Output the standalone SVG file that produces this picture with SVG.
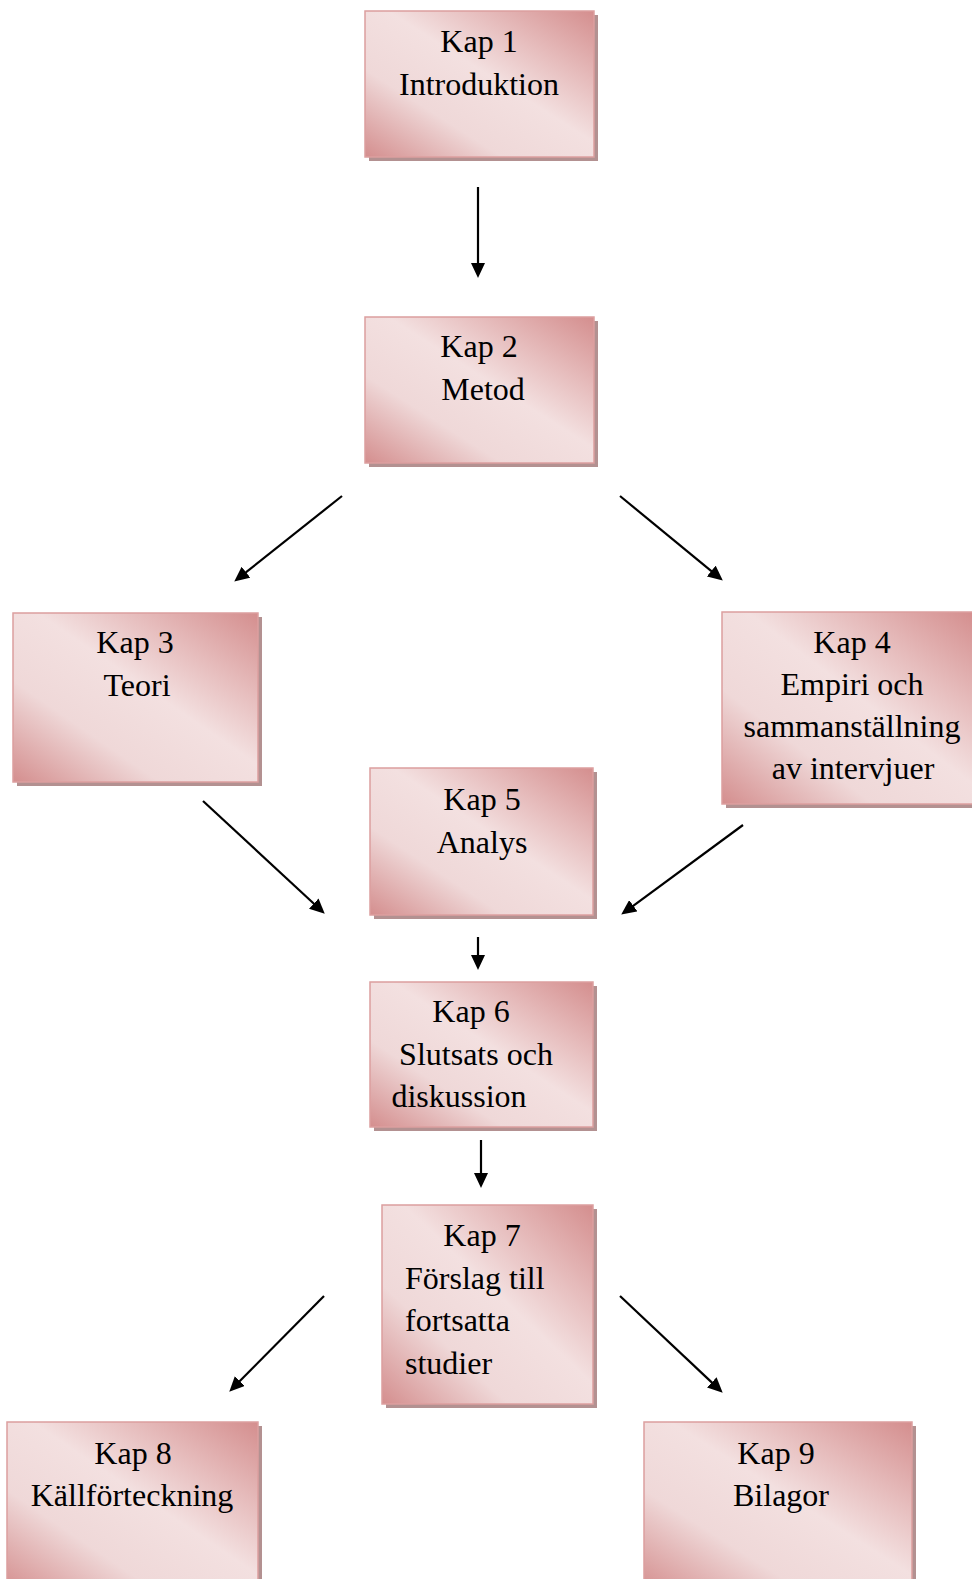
<svg xmlns="http://www.w3.org/2000/svg" width="972" height="1579" viewBox="0 0 972 1579">
  <style>
    .shadow { fill: #b39191; }
    .box { fill: url(#pinkFill); stroke: #dc9f9f; stroke-width: 1.5; }
    .label { font-family: "Liberation Serif", "Times New Roman", serif; font-size: 32px; fill: #000; }
    .mid { text-anchor: middle; }
    .conn { stroke: #000; stroke-width: 2.2; fill: none; marker-end: url(#head); }
  </style>
  <defs>
    <linearGradient id="pinkFill" x1="0" y1="1" x2="1" y2="0">
      <stop offset="0" stop-color="#d48e8e"/>
      <stop offset="0.3" stop-color="#efd8d8"/>
      <stop offset="0.55" stop-color="#f3e0e0"/>
      <stop offset="0.75" stop-color="#e6bcbc"/>
      <stop offset="1" stop-color="#d48e8e"/>
    </linearGradient>
    <marker id="head" markerUnits="userSpaceOnUse" markerWidth="16" markerHeight="14" refX="1" refY="7" orient="auto">
      <path d="M0,0 L15,7 L0,14 z" fill="#000"/>
    </marker>
  </defs>

  <rect width="972" height="1579" fill="#fff"/>

  <!-- connectors -->
  <g id="connectors">
    <line class="conn" x1="478" y1="187" x2="478" y2="264"/>
    <line class="conn" x1="342" y1="496" x2="245.2" y2="572.9"/>
    <line class="conn" x1="620" y1="496" x2="712" y2="571.7"/>
    <line class="conn" x1="203" y1="801" x2="314.5" y2="904.2"/>
    <line class="conn" x1="743" y1="825" x2="632.5" y2="906.3"/>
    <line class="conn" x1="478" y1="937" x2="478" y2="956"/>
    <line class="conn" x1="481" y1="1140" x2="481" y2="1174"/>
    <line class="conn" x1="324" y1="1296" x2="239.1" y2="1381.8"/>
    <line class="conn" x1="620" y1="1296" x2="712.5" y2="1383.1"/>
  </g>

  <!-- chapter boxes -->
  <g id="kap1">
    <rect class="shadow" x="369" y="15" width="229" height="146"/>
    <rect class="box" x="365" y="11" width="229" height="146"/>
    <text class="label mid" x="479" y="52">Kap 1</text>
    <text class="label mid" x="479" y="95">Introduktion</text>
  </g>

  <g id="kap2">
    <rect class="shadow" x="369" y="321" width="229" height="146"/>
    <rect class="box" x="365" y="317" width="229" height="146"/>
    <text class="label mid" x="479" y="357">Kap 2</text>
    <text class="label mid" x="483" y="400">Metod</text>
  </g>

  <g id="kap3">
    <rect class="shadow" x="17" y="617" width="245" height="169"/>
    <rect class="box" x="13" y="613" width="245" height="169"/>
    <text class="label mid" x="135" y="653">Kap 3</text>
    <text class="label mid" x="137" y="696">Teori</text>
  </g>

  <g id="kap4">
    <rect class="shadow" x="726" y="616" width="250" height="192"/>
    <rect class="box" x="722" y="612" width="252" height="192"/>
    <text class="label mid" x="852" y="653">Kap 4</text>
    <text class="label mid" x="852" y="695">Empiri och</text>
    <text class="label mid" x="852" y="737">sammanställning</text>
    <text class="label mid" x="853" y="779">av intervjuer</text>
  </g>

  <g id="kap5">
    <rect class="shadow" x="374" y="772" width="223" height="147"/>
    <rect class="box" x="370" y="768" width="223" height="147"/>
    <text class="label mid" x="482" y="810">Kap 5</text>
    <text class="label mid" x="482" y="853">Analys</text>
  </g>

  <g id="kap6">
    <rect class="shadow" x="374" y="986" width="223" height="145"/>
    <rect class="box" x="370" y="982" width="223" height="145"/>
    <text class="label mid" x="471" y="1022">Kap 6</text>
    <text class="label mid" x="476" y="1065">Slutsats och</text>
    <text class="label mid" x="459" y="1107">diskussion</text>
  </g>

  <g id="kap7">
    <rect class="shadow" x="386" y="1209" width="211" height="199"/>
    <rect class="box" x="382" y="1205" width="211" height="199"/>
    <text class="label mid" x="482" y="1246">Kap 7</text>
    <text class="label" x="405" y="1289">Förslag till</text>
    <text class="label" x="405" y="1331">fortsatta</text>
    <text class="label" x="405" y="1374">studier</text>
  </g>

  <g id="kap8">
    <rect class="shadow" x="11" y="1426" width="251" height="170"/>
    <rect class="box" x="7" y="1422" width="251" height="170"/>
    <text class="label mid" x="133" y="1464">Kap 8</text>
    <text class="label mid" x="132" y="1506">Källförteckning</text>
  </g>

  <g id="kap9">
    <rect class="shadow" x="648" y="1426" width="268" height="170"/>
    <rect class="box" x="644" y="1422" width="268" height="170"/>
    <text class="label mid" x="776" y="1464">Kap 9</text>
    <text class="label mid" x="781" y="1506">Bilagor</text>
  </g>
</svg>
